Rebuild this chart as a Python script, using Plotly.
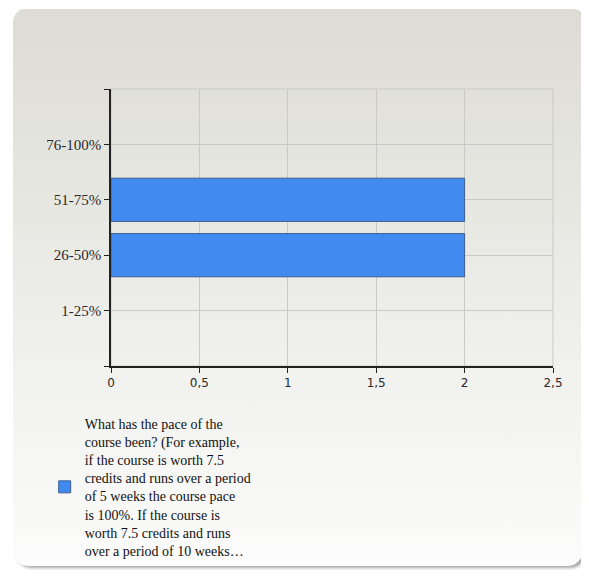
import base64
import plotly.graph_objects as go

categories = ["1-25%", "26-50%", "51-75%", "76-100%"]
counts = [0, 2, 2, 0]
x_ticks = [0, 0.5, 1, 1.5, 2, 2.5]
x_tick_labels = ["0", "0,5", "1", "1,5", "2", "2,5"]
series_name = ("What has the pace of the<br>course been? (For example,<br>"
               "if the course is worth 7.5<br>credits and runs over a period<br>"
               "of 5 weeks the course pace<br>is 100%. If the course is<br>"
               "worth 7.5 credits and runs<br>over a period of 10 weeks\u2026")

OFF = 8  # default body margin of the page
W, H = 589 - OFF, 579 - OFF
ML, MR, MT, MB = 111 - OFF, 36, 89 - OFF, 209
PW, PH = W - ML - MR, H - MT - MB

idx = list(range(len(categories)))
show_idx = [i for i, v in enumerate(counts) if v > 0]

svg = f'''<svg xmlns="http://www.w3.org/2000/svg" width="{W}" height="{H}" viewBox="0 0 {W} {H}">
<defs>
<linearGradient id="g" x1="0" y1="0" x2="0" y2="1">
<stop offset="0" stop-color="#dcdcd4"/>
<stop offset="1" stop-color="#fcfcfc"/>
</linearGradient>
<filter id="s" x="-5%" y="-5%" width="110%" height="110%">
<feGaussianBlur stdDeviation="1.5"/>
</filter>
</defs>
<rect x="{16-OFF}" y="{8-OFF}" width="570" height="567" rx="16" ry="16" fill="#a8a8a8" filter="url(#s)"/>
<rect x="{13-OFF}" y="{6-OFF}" width="570" height="567" rx="16" ry="16" fill="url(#g)"/>
</svg>'''
src = "data:image/svg+xml;base64," + base64.b64encode(svg.encode()).decode()

fig = go.Figure()
fig.add_trace(go.Bar(
    x=[counts[i] for i in show_idx],
    y=[idx[i] for i in show_idx],
    orientation="h",
    width=0.78,
    marker=dict(color="#418af0", line=dict(color="#3d5f8f", width=1)),
    name=series_name,
    showlegend=True,
))

fig.update_layout(
    width=W, height=H,
    margin=dict(l=ML, r=MR, t=MT, b=MB),
    paper_bgcolor="white",
    plot_bgcolor="rgba(0,0,0,0)",
    separators=", ",
    showlegend=True,
    legend=dict(
        x=-0.15, y=-0.15, xanchor="left", yanchor="top",
        bgcolor="rgba(0,0,0,0)",
        font=dict(family="Liberation Serif", size=14, color="#111111"),
        valign="middle",
        itemwidth=30,
    ),
    images=[dict(
        source=src, xref="paper", yref="paper",
        x=-ML / PW, y=1 + MT / PH, sizex=W / PW, sizey=H / PH,
        xanchor="left", yanchor="top", sizing="stretch", layer="below",
    )],
    xaxis=dict(
        range=[0, 2.5], tickvals=x_ticks, ticktext=x_tick_labels,
        showgrid=True, gridcolor="#c9c9c6", gridwidth=1,
        showline=True, linecolor="#222222", linewidth=1.5,
        ticks="outside", ticklen=5, tickcolor="#222222",
        tickfont=dict(family="DejaVu Sans", size=12, color="#2a2a2a"),
        zeroline=False, mirror=False,
    ),
    yaxis=dict(
        range=[-1, len(categories)],
        tickvals=[-1] + idx + [len(categories)],
        ticktext=[""] + categories + [""],
        showgrid=True, gridcolor="#c9c9c6", gridwidth=1,
        showline=True, linecolor="#222222", linewidth=1.5,
        ticks="outside", ticklen=5, tickcolor="#222222",
        tickfont=dict(family="Liberation Serif", size=15, color="#2a2a2a"),
        zeroline=False,
    ),
    shapes=[dict(type="rect", xref="paper", yref="paper", x0=0, x1=1, y0=0, y1=1,
                 line=dict(color="#c9c9c6", width=1), layer="below")],
)

fig.write_html("out.html")
